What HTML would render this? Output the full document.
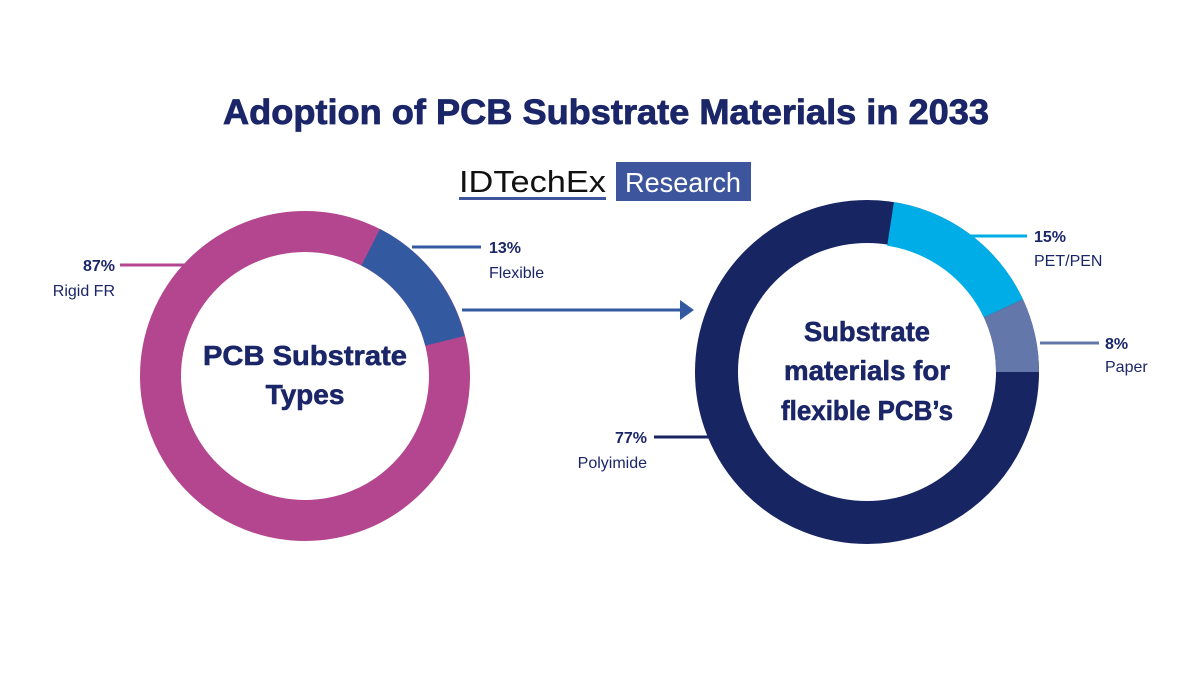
<!DOCTYPE html>
<html><head><meta charset="utf-8"><style>
body{margin:0;background:#fff;}
svg{display:block}
text{font-family:"Liberation Sans",sans-serif;}
</style></head><body>
<svg width="1200" height="675" viewBox="0 0 1200 675" xmlns="http://www.w3.org/2000/svg">
<rect width="1200" height="675" fill="#fff"/>
<text x="606" y="124" text-anchor="middle" font-size="35" font-weight="bold" fill="#1b2668" stroke="#1b2668" stroke-width="0.8" textLength="766" lengthAdjust="spacingAndGlyphs">Adoption of PCB Substrate Materials in 2033</text>
<text x="459" y="192" font-size="31" fill="#111" textLength="147" lengthAdjust="spacingAndGlyphs">IDTechEx</text>
<rect x="459" y="197" width="147" height="3" fill="#3d559c"/>
<rect x="616" y="162" width="135" height="39" fill="#3d559c"/>
<text x="683" y="192" text-anchor="middle" font-size="28" fill="#fff" textLength="116" lengthAdjust="spacingAndGlyphs">Research</text>

<!-- left donut -->
<circle cx="305" cy="376" r="144.5" fill="none" stroke="#b3468e" stroke-width="41"/>
<path d="M380.0,229.0 A165,165 0 0 1 464.6,336.0 L425.2,345.6 A124,124 0 0 0 361.4,265.5 Z" fill="#335aa0"/>
<text x="305" y="365" text-anchor="middle" font-size="28" font-weight="bold" fill="#1b2668" stroke="#1b2668" stroke-width="0.6" textLength="204" lengthAdjust="spacingAndGlyphs">PCB Substrate</text>
<text x="305" y="404" text-anchor="middle" font-size="28" font-weight="bold" fill="#1b2668" stroke="#1b2668" stroke-width="0.6">Types</text>
<line x1="120" y1="265" x2="186" y2="265" stroke="#b3468e" stroke-width="3"/>
<text x="115" y="271" text-anchor="end" font-size="16" font-weight="bold" fill="#1b2668">87%</text>
<text x="115" y="296" text-anchor="end" font-size="16" fill="#1b2668">Rigid FR</text>
<line x1="412" y1="247" x2="481" y2="247" stroke="#335aa0" stroke-width="3"/>
<text x="489" y="253" font-size="16" font-weight="bold" fill="#1b2668">13%</text>
<text x="489" y="278" font-size="16" fill="#1b2668">Flexible</text>
<line x1="462" y1="310" x2="682" y2="310" stroke="#335aa0" stroke-width="3"/>
<polygon points="680,300 694,310 680,320" fill="#335aa0"/>

<!-- right donut -->
<circle cx="867" cy="372" r="150.5" fill="none" stroke="#182563" stroke-width="43"/>
<path d="M893.9,202.1 A172,172 0 0 1 1022.9,299.3 L984.0,317.4 A129,129 0 0 0 887.2,245.7 Z" fill="#00ade6"/>
<path d="M1022.9,299.3 A172,172 0 0 1 1039,372 L996,372 A129,129 0 0 0 984.0,317.4 Z" fill="#6377aa"/>
<text x="867" y="341" text-anchor="middle" font-size="28" font-weight="bold" fill="#1b2668" stroke="#1b2668" stroke-width="0.6" textLength="126" lengthAdjust="spacingAndGlyphs">Substrate</text>
<text x="867" y="380" text-anchor="middle" font-size="28" font-weight="bold" fill="#1b2668" stroke="#1b2668" stroke-width="0.6" textLength="166" lengthAdjust="spacingAndGlyphs">materials for</text>
<text x="867" y="420" text-anchor="middle" font-size="28" font-weight="bold" fill="#1b2668" stroke="#1b2668" stroke-width="0.6" textLength="172" lengthAdjust="spacingAndGlyphs">flexible PCB’s</text>
<line x1="937" y1="236" x2="1027" y2="236" stroke="#00ade6" stroke-width="3"/>
<text x="1034" y="242" font-size="16" font-weight="bold" fill="#1b2668">15%</text>
<text x="1034" y="266" font-size="16" fill="#1b2668">PET/PEN</text>
<line x1="1040" y1="343" x2="1099" y2="343" stroke="#6377aa" stroke-width="3"/>
<text x="1105" y="349" font-size="16" font-weight="bold" fill="#1b2668">8%</text>
<text x="1105" y="372" font-size="16" fill="#1b2668">Paper</text>
<line x1="654" y1="437" x2="720" y2="437" stroke="#182563" stroke-width="3"/>
<text x="647" y="443" text-anchor="end" font-size="16" font-weight="bold" fill="#1b2668">77%</text>
<text x="647" y="468" text-anchor="end" font-size="16" fill="#1b2668">Polyimide</text>
</svg>
</body></html>
